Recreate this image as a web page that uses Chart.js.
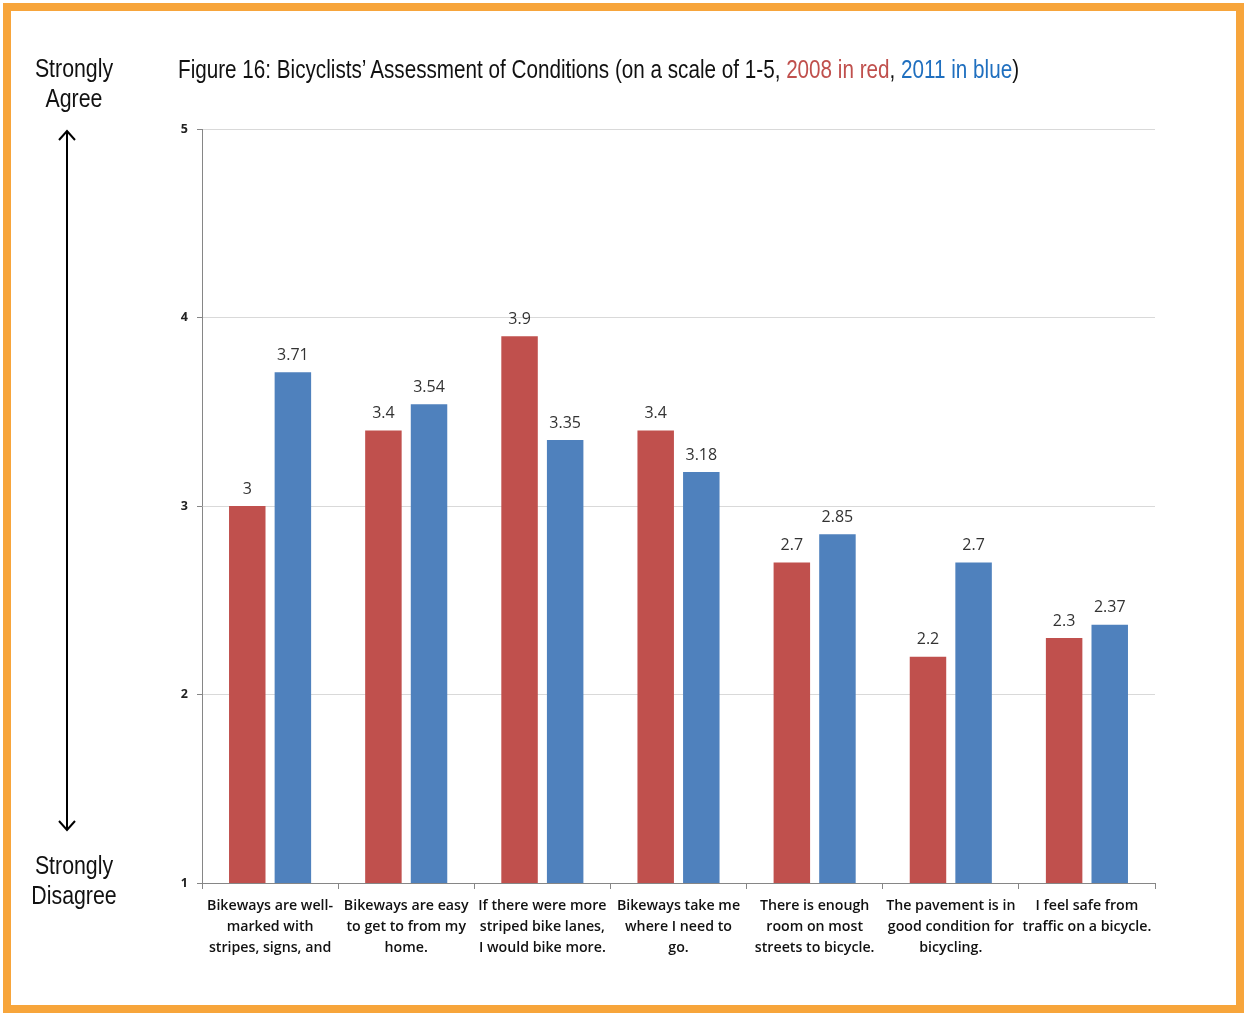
<!DOCTYPE html>
<html>
<head>
<meta charset="utf-8">
<script src="https://cdn.jsdelivr.net/npm/chart.js@4"></script>
<style>
  body { margin: 0; background: #fff; }
  #wrap { position: relative; width: 1244px; height: 1013px; overflow: hidden; }
  #frame { position: absolute; left: 3px; top: 3px; width: 1241px; height: 1010px; box-sizing: border-box; border: 8px solid #F7A53B; }
  #chart { position: absolute; left: 0; top: 0; }
  .narrow { font-family: "Liberation Sans", Arial, sans-serif; color: #111; }
  #title { position: absolute; left: 178px; top: 54px; font-size: 26px; white-space: nowrap; transform: scaleX(0.795); transform-origin: left center; }
  .side { position: absolute; width: 110px; text-align: center; font-size: 26px; line-height: 30px; transform: scaleX(0.82); transform-origin: center center; }
  #agree { left: 19px; top: 53px; }
  #disagree { left: 19px; top: 850px; }
  #arrow { position: absolute; left: 0; top: 0; }
</style>
</head>
<body>
<div id="wrap">
  <canvas id="chart" width="1244" height="1013"></canvas>
  <div id="frame"></div>
  <div id="title" class="narrow">Figure 16: Bicyclists’ Assessment of Conditions (on a scale of 1-5, <span style="color:#C0504D">2008 in red</span>, <span style="color:#1F6FBF">2011 in blue</span>)</div>
  <div id="agree" class="side narrow">Strongly<br>Agree</div>
  <div id="disagree" class="side narrow">Strongly<br>Disagree</div>
  <svg id="arrow" width="140" height="1013">
    <g stroke="#000" stroke-width="2" fill="none">
      <line x1="67" y1="131" x2="67" y2="830"/>
      <polyline points="59,140 67,131 75,140"/>
      <polyline points="59,821 67,830 75,821"/>
    </g>
  </svg>
</div>
<script>
// categories (labels are cut off in the original, kept as shown)
var categories = [
  ["Bikeways are well-", "marked with", "stripes, signs, and"],
  ["Bikeways are easy", "to get to from my", "home."],
  ["If there were more", "striped bike lanes,", "I would bike more."],
  ["Bikeways take me", "where I need to", "go."],
  ["There is enough", "room on most", "streets to bicycle."],
  ["The pavement is in", "good condition for", "bicycling."],
  ["I feel safe from", "traffic on a bicycle."]
];
var scores2008 = [3, 3.4, 3.9, 3.4, 2.7, 2.2, 2.3];
var scores2011 = [3.71, 3.54, 3.35, 3.18, 2.85, 2.7, 2.37];
var yTicks = [1, 2, 3, 4, 5];

// draws the number above each bar
var valueLabels = {
  id: 'valueLabels',
  afterDatasetsDraw: function(chart) {
    var ctx = chart.ctx;
    ctx.save();
    ctx.font = '16px "Open Sans", sans-serif';
    ctx.fillStyle = '#333';
    ctx.textAlign = 'center';
    ctx.textBaseline = 'bottom';
    chart.data.datasets.forEach(function(ds, i) {
      chart.getDatasetMeta(i).data.forEach(function(bar, j) {
        ctx.fillText(String(ds.data[j]), bar.x, bar.y - 9);
      });
    });
    ctx.restore();
  }
};

new Chart(document.getElementById('chart'), {
  type: 'bar',
  data: {
    labels: categories,
    datasets: [
      { label: '2008', data: scores2008, backgroundColor: '#C0504D' },
      { label: '2011', data: scores2011, backgroundColor: '#4F81BD' }
    ]
  },
  options: {
    responsive: false,
    animation: false,
    devicePixelRatio: 1,
    layout: { padding: { left: 142, top: 129, right: 89, bottom: 0 } },
    plugins: { legend: { display: false }, tooltip: { enabled: false } },
    datasets: { bar: { categoryPercentage: 0.67, barPercentage: 0.8 } },
    scales: {
      x: {
        grid: { offset: true, drawOnChartArea: false, drawTicks: true, tickLength: 6, color: '#868686' },
        border: { color: '#868686' },
        ticks: {
          maxRotation: 0, autoSkip: false, padding: 6, color: '#111',
          font: { family: '"Open Sans", sans-serif', size: 14.2, weight: '600', lineHeight: 1.48 }
        },
        afterFit: function(s) { s.height = 130; }
      },
      y: {
        min: 1, max: 5,
        afterBuildTicks: function(s) { s.ticks = yTicks.map(function(v) { return { value: v }; }); },
        grid: { color: '#D9D9D9', tickColor: '#868686', tickLength: 5 },
        border: { color: '#868686' },
        ticks: { padding: 9, color: '#222', font: { family: '"Open Sans", sans-serif', size: 12.5, weight: 'bold' } },
        afterFit: function(s) { s.width = 60; }
      }
    }
  },
  plugins: [valueLabels]
});
</script>
</body>
</html>
